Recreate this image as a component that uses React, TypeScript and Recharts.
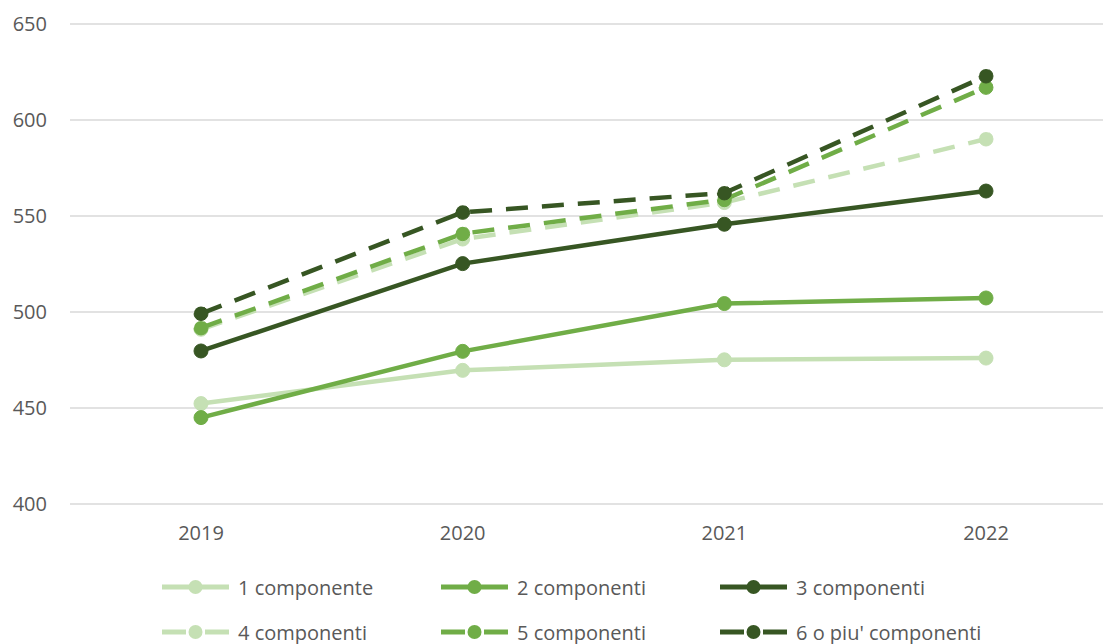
// Household spending trend by number of members, 2019-2022
import React from 'react';
import { LineChart, Line, XAxis, YAxis, CartesianGrid, Legend } from 'recharts';

const years = ['2019', '2020', '2021', '2022'];
const uno = [452.3, 469.6, 475.1, 476];
const due = [445, 479.5, 504.4, 507.3];
const tre = [479.7, 525.2, 545.7, 563];
const quattro = [491, 538, 557, 590.1];
const cinque = [491.7, 540.8, 558.5, 617];
const seiPiu = [499.2, 551.9, 562, 622.9];
const yTicks = [400, 450, 500, 550, 600, 650];

const LIGHT = '#c5e0b4';
const MID = '#70ad47';
const DARK = '#375623';
const TEXT = '#595959';
const FONT = '"Open Sans", sans-serif';

const series = [
  { key: 'c1', name: '1 componente', values: uno, color: LIGHT, dashed: false },
  { key: 'c2', name: '2 componenti', values: due, color: MID, dashed: false },
  { key: 'c3', name: '3 componenti', values: tre, color: DARK, dashed: false },
  { key: 'c4', name: '4 componenti', values: quattro, color: LIGHT, dashed: true },
  { key: 'c5', name: '5 componenti', values: cinque, color: MID, dashed: true },
  { key: 'c6', name: "6 o piu' componenti", values: seiPiu, color: DARK, dashed: true },
];

const data = years.map((year, i) => {
  const row: Record<string, string | number> = { year };
  series.forEach((s) => {
    row[s.key] = s.values[i];
  });
  return row;
});

// two rows of three, same order as the series
const LegendGrid = () => (
  <div style={{ position: 'relative', width: 1103, height: 80 }}>
    {series.map((s, i) => {
      const col = i % 3;
      const row = Math.floor(i / 3);
      return (
        <div
          key={s.key}
          style={{
            position: 'absolute',
            left: 162 + col * 279,
            top: 23 + row * 45 - 12,
            height: 24,
            display: 'flex',
            alignItems: 'center',
            whiteSpace: 'nowrap',
          }}
        >
          <svg width={67} height={24}>
            {s.dashed ? (
              <>
                <line x1={0} y1={12} x2={24} y2={12} stroke={s.color} strokeWidth={5} />
                <line x1={43} y1={12} x2={67} y2={12} stroke={s.color} strokeWidth={5} />
              </>
            ) : (
              <line x1={0} y1={12} x2={67} y2={12} stroke={s.color} strokeWidth={5} />
            )}
            <circle cx={33.5} cy={12} r={7} fill={s.color} />
          </svg>
          <span style={{ marginLeft: 9, fontFamily: FONT, fontSize: 20, color: TEXT }}>{s.name}</span>
        </div>
      );
    })}
  </div>
);

export default function App() {
  return (
    <div
      style={{
        position: 'fixed',
        left: 0,
        top: 0,
        width: 1103,
        height: 644,
        overflow: 'hidden',
        background: '#ffffff',
      }}
    >
      <LineChart width={1120} height={644} data={data} margin={{ top: 24, right: 3, bottom: 0, left: 0 }}>
        <CartesianGrid vertical={false} stroke="#d9d9d9" strokeWidth={1.5} />
        <XAxis
          dataKey="year"
          axisLine={false}
          tickLine={false}
          tickSize={0}
          tickMargin={22}
          height={60}
          padding={{ left: 131, right: 131 }}
          tick={{ fill: TEXT, fontSize: 20, fontFamily: FONT }}
        />
        <YAxis
          domain={[400, 650]}
          ticks={yTicks}
          interval={0}
          axisLine={false}
          tickLine={false}
          tickSize={0}
          tickMargin={23}
          width={70}
          tick={{ fill: TEXT, fontSize: 20, fontFamily: FONT }}
        />
        {series.map((s) => (
          <Line
            key={s.key}
            type="linear"
            dataKey={s.key}
            name={s.name}
            stroke={s.color}
            strokeWidth={4.5}
            strokeDasharray={s.dashed ? '22 14' : undefined}
            dot={{ r: 7, fill: s.color, stroke: s.color, strokeWidth: 1 }}
            activeDot={false}
            isAnimationActive={false}
          />
        ))}
        <Legend
          verticalAlign="bottom"
          content={() => <LegendGrid />}
          wrapperStyle={{ left: 0, width: 1103, height: 80 }}
        />
      </LineChart>
    </div>
  );
}
